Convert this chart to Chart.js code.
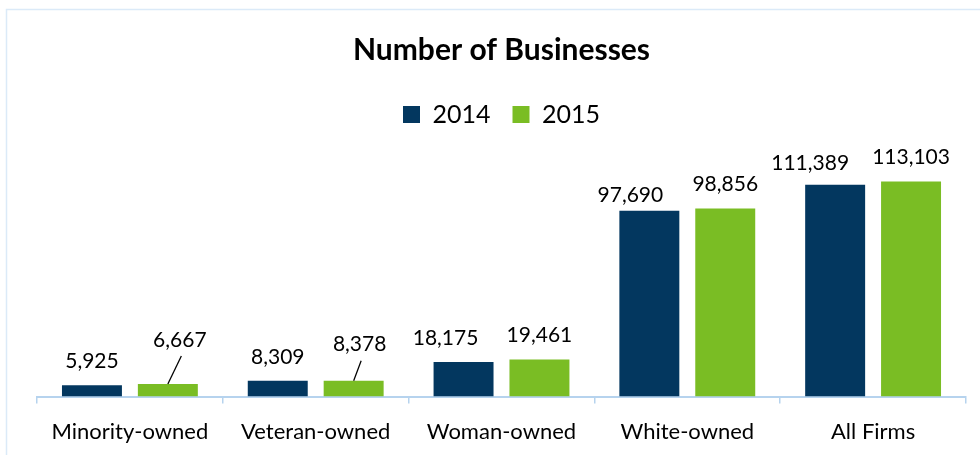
<!DOCTYPE html>
<html><head><meta charset="utf-8">
<script src="https://cdn.jsdelivr.net/npm/chart.js@4/dist/chart.umd.min.js"></script>
<style>html,body{margin:0;padding:0;background:#fff;overflow:hidden}#wrap{width:980px;height:455px;position:relative}</style>
</head><body><div id="wrap"><canvas id="c" width="980" height="455"></canvas></div>
<script>
const categories = ['Minority-owned', 'Veteran-owned', 'Woman-owned', 'White-owned', 'All Firms'];
const seriesNames = ['2014', '2015'];
const values2014 = [5925, 8309, 18175, 97690, 111389];
const values2015 = [6667, 8378, 19461, 98856, 113103];
const chartTitle = 'Number of Businesses';

const NAVY = '#03375f';
const GREEN = '#7abd24';
const AXIS = '#b6d3ee';
const FONT = 'Lato, "Open Sans", sans-serif';

// label placement tweaks (style, not data): key = datasetIndex-index
const labelTweaks = {
  '0-2': {dx: -18, dy: 0},
  '0-3': {dx: -19, dy: 8},
  '0-4': {dx: -25, dy: 2},
  '1-0': {dx: 12, dy: -20, leader: true},
  '1-1': {dx: 6, dy: -12, leader: true}
};

const framePlugin = {
  id: 'frame',
  beforeDraw(chart) {
    const ctx = chart.ctx;
    ctx.save();
    ctx.strokeStyle = '#dbeaf8';
    ctx.lineWidth = 1.5;
    ctx.beginPath();
    ctx.moveTo(6.5, 460); ctx.lineTo(6.5, 9.5); ctx.lineTo(985, 9.5);
    ctx.stroke();
    ctx.restore();
  }
};

const valueLabels = {
  id: 'valueLabels',
  afterDatasetsDraw(chart) {
    const ctx = chart.ctx;
    ctx.save();
    ctx.font = '21px ' + FONT;
    ctx.fillStyle = '#000';
    ctx.textAlign = 'center';
    ctx.textBaseline = 'middle';
    chart.data.datasets.forEach((ds, di) => {
      const meta = chart.getDatasetMeta(di);
      meta.data.forEach((bar, i) => {
        const t = labelTweaks[di + '-' + i] || {dx: 0, dy: 0};
        const lx = bar.x + t.dx;
        const ly = bar.y - 24 + t.dy;
        ctx.fillText(ds.data[i].toLocaleString('en-US'), lx, ly);
        if (t.leader) {
          ctx.beginPath();
          ctx.strokeStyle = '#000';
          ctx.lineWidth = 1.3;
          ctx.moveTo(bar.x, bar.y);
          ctx.lineTo(lx + 1.5, ly + 16);
          ctx.stroke();
        }
      });
    });
    ctx.restore();
  }
};

new Chart(document.getElementById('c'), {
  type: 'bar',
  data: {
    labels: categories,
    datasets: [
      {label: seriesNames[0], data: values2014, backgroundColor: NAVY, borderWidth: 0},
      {label: seriesNames[1], data: values2015, backgroundColor: GREEN, borderWidth: 0}
    ]
  },
  plugins: [framePlugin, valueLabels],
  options: {
    responsive: false,
    animation: false,
    devicePixelRatio: 1,
    categoryPercentage: 0.817,
    barPercentage: 0.79,
    layout: {padding: {left: 37, right: 14, top: 0, bottom: -5}},
    plugins: {
      title: {
        display: true,
        text: chartTitle,
        color: '#000',
        font: {family: FONT, size: 30, weight: 'bold'},
        padding: {top: 32, bottom: 12}
      },
      legend: {
        display: true,
        labels: {
          color: '#000',
          font: {family: FONT, size: 25},
          boxWidth: 17,
          boxHeight: 17,
          padding: 22
        }
      },
      tooltip: {enabled: false}
    },
    scales: {
      x: {
        grid: {display: true, drawOnChartArea: false, drawTicks: true, tickLength: 7, color: AXIS, lineWidth: 1.5},
        border: {display: true, color: AXIS, width: 2},
        ticks: {color: '#000', font: {family: FONT, size: 22}, padding: 15, maxRotation: 0, autoSkip: false}
      },
      y: {
        display: false,
        min: 0,
        max: 136500
      }
    }
  }
});
</script>
</body></html>
